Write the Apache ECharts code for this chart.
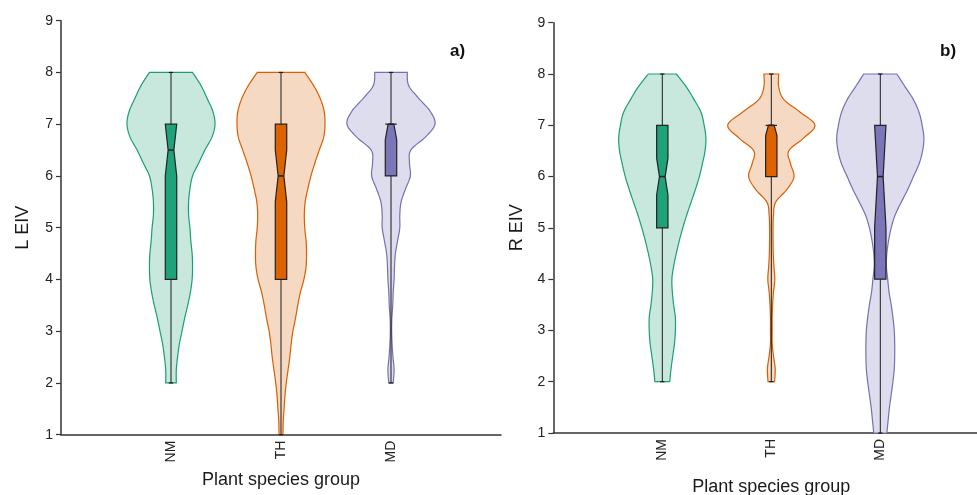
<!DOCTYPE html>
<html>
<head>
<meta charset="utf-8">
<script src="https://cdn.jsdelivr.net/npm/echarts@6/dist/echarts.min.js"></script>
<style>html,body{margin:0;padding:0;background:#fff;}#c{width:977px;height:495px;}</style>
</head>
<body>
<div id="c"></div>
<script>
// ---------- DATA ----------
const categories = ['NM', 'TH', 'MD'];
const xTickLabels = ['', 'NM', 'TH', 'MD', ''];
const yTicks = [1, 2, 3, 4, 5, 6, 7, 8, 9];
// density evaluation levels (EIV value), from top to bottom
const levels = [8, 7.75, 7.5, 7.25, 7, 6.75, 6.5, 6.25, 6, 5.75, 5.5, 5.25, 5, 4.75, 4.5, 4.25, 4, 3.75, 3.5, 3.25, 3, 2.75, 2.5, 2.25, 2, 1.75, 1.5, 1.25, 1];

// relative violin widths (scaled so that max = 1), panel a) L EIV
const L_NM = [0.49, 0.68, 0.82, 0.95, 1.0, 0.93, 0.77, 0.63, 0.49, 0.43, 0.40, 0.40, 0.43, 0.45, 0.48, 0.49, 0.48, 0.44, 0.38, 0.31, 0.25, 0.19, 0.15, 0.12, 0.12];
const L_TH = [0.54, 0.74, 0.89, 0.98, 1.0, 0.97, 0.87, 0.77, 0.68, 0.61, 0.55, 0.53, 0.54, 0.57, 0.58, 0.57, 0.52, 0.44, 0.38, 0.33, 0.27, 0.23, 0.20, 0.16, 0.12, 0.09, 0.07, 0.05, 0.045];
const L_MD = [0.37, 0.40, 0.63, 0.89, 1.0, 0.78, 0.45, 0.42, 0.44, 0.33, 0.23, 0.20, 0.20, 0.15, 0.10, 0.08, 0.07, 0.05, 0.04, 0.02, 0.015, 0.025, 0.045, 0.07, 0.05];

// panel b) R EIV
const R_NM = [0.32, 0.55, 0.73, 0.89, 0.96, 1.0, 0.98, 0.92, 0.85, 0.76, 0.66, 0.56, 0.47, 0.39, 0.32, 0.26, 0.22, 0.23, 0.26, 0.30, 0.30, 0.28, 0.24, 0.20, 0.17];
const R_TH = [0.17, 0.17, 0.29, 0.67, 1.0, 0.74, 0.40, 0.44, 0.52, 0.36, 0.10, 0.05, 0.04, 0.04, 0.045, 0.06, 0.08, 0.05, 0.03, 0.02, 0.02, 0.02, 0.05, 0.09, 0.075];
const R_MD = [0.38, 0.57, 0.76, 0.89, 0.96, 1.0, 0.97, 0.89, 0.76, 0.63, 0.48, 0.34, 0.25, 0.19, 0.15, 0.14, 0.17, 0.20, 0.25, 0.29, 0.32, 0.33, 0.33, 0.32, 0.29, 0.25, 0.21, 0.18, 0.15];

// box stats: [whiskerMin, Q1, median, Q3, whiskerMax, notchLow, notchHigh]
const L_box = [
  [2, 4, 6.5, 7, 8, 6.0, 7.0],
  [1, 4, 6, 7, 8, 5.5, 6.5],
  [2, 6, 7, 7, 8, 6.7, 7.0]
];
const R_box = [
  [2, 5, 6, 7, 8, 5.64, 6.36],
  [2, 6, 7, 7, 8, 6.8, 7.0],
  [1, 4, 6, 7, 8, 5.0, 7.0]
];

// ---------- STYLE ----------
const FONT = '"Liberation Sans", Arial, Helvetica, sans-serif';
const violinFill = ['#c8e7dd', '#f6d9c2', '#dedded'];
const violinStroke = ['#1b9e77', '#d95f02', '#7570b3'];
const boxFill = ['#1ea27a', '#dc6300', '#7a76b8'];
const VIOLIN_HALF = 0.4;
const BOX_HALF = 0.052;
const CAP_HALF = 0.02;

function smoothPath(pts, n) {
  const out = [];
  for (let i = 0; i < pts.length - 1; i++) {
    const p0 = pts[Math.max(i - 1, 0)], p1 = pts[i], p2 = pts[i + 1], p3 = pts[Math.min(i + 2, pts.length - 1)];
    for (let k = 0; k < n; k++) {
      const t = k / n, t2 = t * t, t3 = t2 * t;
      const f = (a, b, c, d) => 0.5 * ((2 * b) + (-a + c) * t + (2 * a - 5 * b + 4 * c - d) * t2 + (-a + 3 * b - 3 * c + d) * t3);
      out.push([f(p0[0], p1[0], p2[0], p3[0]), f(p0[1], p1[1], p2[1], p3[1])]);
    }
  }
  out.push(pts[pts.length - 1]);
  return out;
}

function violinRender(sets) {
  return function (params, api) {
    const idx = params.dataIndex;
    const cat = api.value(0);
    const dens = sets[idx];
    const left = [], right = [];
    for (let i = 0; i < dens.length; i++) {
      const hw = dens[i] * VIOLIN_HALF;
      left.push(api.coord([cat - hw, levels[i]]));
      right.push(api.coord([cat + hw, levels[i]]));
    }
    const pts = smoothPath(left, 10).concat(smoothPath(right, 10).reverse());
    return {
      type: 'polygon',
      shape: { points: pts },
      style: { fill: violinFill[idx], stroke: violinStroke[idx], lineWidth: 1.2 }
    };
  };
}

function boxRender(stats) {
  return function (params, api) {
    const idx = params.dataIndex;
    const c = api.value(0);
    const [mn, q1, md, q3, mx, nl, nh] = stats[idx];
    const w = BOX_HALF, ni = BOX_HALF / 2;
    const P = (x, y) => api.coord([x, y]);
    const boxPts = [
      P(c - w, q1), P(c - w, nl), P(c - ni, md), P(c - w, nh), P(c - w, q3),
      P(c + w, q3), P(c + w, nh), P(c + ni, md), P(c + w, nl), P(c + w, q1)
    ];
    const a = P(c, mn), b = P(c, mx);
    const capL1 = P(c - CAP_HALF, mn), capR1 = P(c + CAP_HALF, mn);
    const capL2 = P(c - CAP_HALF, mx), capR2 = P(c + CAP_HALF, mx);
    const m1 = P(c - ni, md), m2 = P(c + ni, md);
    return {
      type: 'group',
      children: [
        { type: 'line', shape: { x1: a[0], y1: a[1], x2: b[0], y2: b[1] }, style: { stroke: '#1a1a1a', lineWidth: 1 } },
        { type: 'line', shape: { x1: capL1[0], y1: capL1[1], x2: capR1[0], y2: capR1[1] }, style: { stroke: '#1a1a1a', lineWidth: 1.2 } },
        { type: 'line', shape: { x1: capL2[0], y1: capL2[1], x2: capR2[0], y2: capR2[1] }, style: { stroke: '#1a1a1a', lineWidth: 1.2 } },
        { type: 'polygon', shape: { points: boxPts }, style: { fill: boxFill[idx], stroke: '#222', lineWidth: 1.2 } },
        { type: 'line', shape: { x1: m1[0], y1: m1[1], x2: m2[0], y2: m2[1] }, style: { stroke: '#222', lineWidth: 1.6 } }
      ]
    };
  };
}

const chart = echarts.init(document.getElementById('c'), null, { renderer: 'canvas' });

function xAxisCfg(gi, gap) {
  return {
    gridIndex: gi, type: 'value', min: 0, max: 4, interval: 1,
    name: 'Plant species group', nameLocation: 'middle', nameGap: gap,
    nameTextStyle: { fontFamily: FONT, fontSize: 18, color: '#1a1a1a' },
    axisLine: { show: true, lineStyle: { color: '#333', width: 1.5 } },
    axisTick: { show: false },
    splitLine: { show: false },
    axisLabel: {
      rotate: 90, margin: 6, fontFamily: FONT, fontSize: 14, color: '#222',
      formatter: v => xTickLabels[v] || ''
    }
  };
}
function yAxisCfg(gi, name, gap) {
  return {
    gridIndex: gi, type: 'value', min: yTicks[0], max: yTicks[yTicks.length - 1], interval: 1,
    name: name, nameLocation: 'middle', nameGap: gap, nameRotate: 90,
    nameTextStyle: { fontFamily: FONT, fontSize: 18, color: '#1a1a1a' },
    axisLine: { show: true, lineStyle: { color: '#333', width: 1.5 } },
    axisTick: { show: true, length: 5, lineStyle: { color: '#333', width: 1.2 } },
    splitLine: { show: false },
    axisLabel: { margin: 8, fontFamily: FONT, fontSize: 14, color: '#222' }
  };
}

chart.setOption({
  animation: false,
  backgroundColor: '#fff',
  title: [
    { text: 'a)', left: 445, top: 38, textStyle: { fontFamily: FONT, fontSize: 17, fontWeight: 'bold', color: '#111' } },
    { text: 'b)', left: 935, top: 38, textStyle: { fontFamily: FONT, fontSize: 17, fontWeight: 'bold', color: '#111' } }
  ],
  grid: [
    { left: 61, top: 20.7, width: 440, height: 414, containLabel: false, outerBoundsMode: 'none' },
    { left: 553.3, top: 22.7, width: 436, height: 410.3, containLabel: false, outerBoundsMode: 'none' }
  ],
  xAxis: [xAxisCfg(0, 36), xAxisCfg(1, 45)],
  yAxis: [yAxisCfg(0, 'L EIV', 29), yAxisCfg(1, 'R EIV', 27)],
  series: [
    { type: 'custom', xAxisIndex: 0, yAxisIndex: 0, renderItem: violinRender([L_NM, L_TH, L_MD]), data: [[1], [2], [3]], z: 1 },
    { type: 'custom', xAxisIndex: 0, yAxisIndex: 0, renderItem: boxRender(L_box), data: [[1], [2], [3]], z: 2 },
    { type: 'custom', xAxisIndex: 1, yAxisIndex: 1, renderItem: violinRender([R_NM, R_TH, R_MD]), data: [[1], [2], [3]], z: 1 },
    { type: 'custom', xAxisIndex: 1, yAxisIndex: 1, renderItem: boxRender(R_box), data: [[1], [2], [3]], z: 2 }
  ]
});
</script>
</body>
</html>
